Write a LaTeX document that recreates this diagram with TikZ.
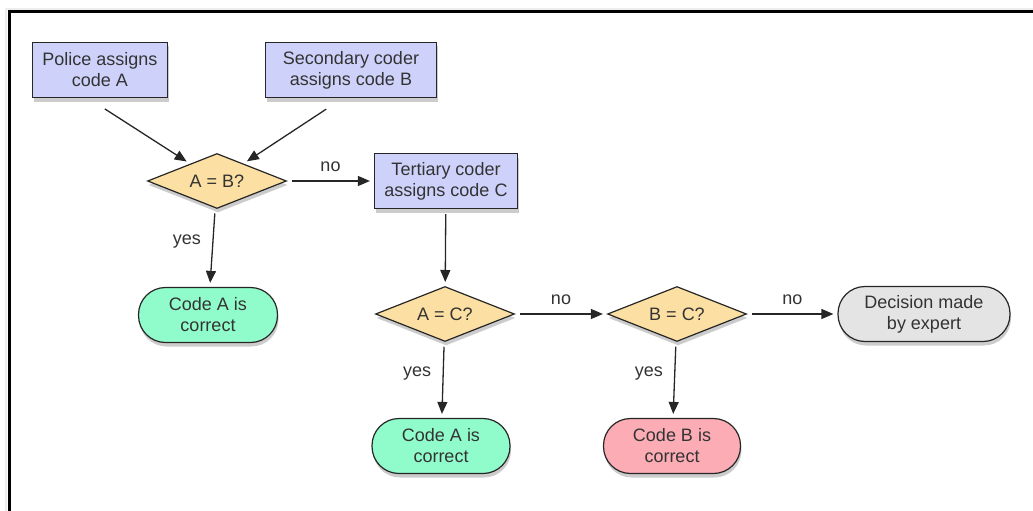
\documentclass[tikz,border=0pt]{standalone}
\usepackage{fontspec}
\setmainfont{Liberation Sans}
\usetikzlibrary{shapes.geometric,arrows.meta,shadows}

\definecolor{taskblue}{RGB}{206,210,250}
\definecolor{testyellow}{RGB}{252,223,162}
\definecolor{yesgreen}{RGB}{145,252,203}
\definecolor{nored}{RGB}{252,172,180}
\definecolor{expertgray}{RGB}{228,228,228}

\begin{document}
\begin{tikzpicture}[x=1pt,y=-1pt,
            every node/.style={font=\fontsize{18}{21}\selectfont,text=black!80},
            base node/.style={draw=black!85,line width=1.2pt,align=center,
                minimum height=55pt,inner sep=2pt,
                drop shadow={shadow xshift=1pt,shadow yshift=-4pt,opacity=0.2,fill=black}},
            task node/.style={base node,rectangle,fill=taskblue},
            test node/.style={base node,diamond,aspect=2.5,fill=testyellow,
                minimum width=139pt,inner sep=0pt},
            end node/.style={base node,rectangle,rounded corners=27pt},
            flow/.style={-{Triangle[length=12pt,width=10pt]},line width=1.3pt,
                draw=black!85,shorten <=5pt,shorten >=4pt},
            ]
            \useasboundingbox (0,0) rectangle (1033,511);

            % open frame, top and left side only
            \draw[line width=2pt,black!7] (1033,9) -- (6,9) -- (6,511);
            \draw[line width=3pt] (1033,12) -- (9,12) -- (9,511);

            \node[task node,minimum width=135pt] (police) at (100,70) {Police assigns\\code A};
            \node[task node,minimum width=171pt] (second) at (351,70) {Secondary coder\\assigns code B};
            \node[test node] (ab) at (217,181) {A = B?};
            \node[task node,minimum width=143pt] (third) at (446,181) {Tertiary coder\\assigns code C};
            \node[end node,fill=yesgreen,minimum width=139pt] (okA) at (208,315) {Code A is\\correct};
            \node[test node] (ac) at (445,314) {A = C?};
            \node[test node] (bc) at (677,314) {B = C?};
            \node[end node,fill=expertgray,minimum width=172pt] (expert) at (924,314) {Decision made\\by expert};
            \node[end node,fill=yesgreen,minimum width=138pt] (okAC) at (441,446) {Code A is\\correct};
            \node[end node,fill=nored,minimum width=137pt] (okB) at (672,446) {Code B is\\correct};

            \draw[flow,shorten <=20pt] ([xshift=-12pt]police.south) -- (ab);
            \draw[flow,shorten <=20pt] ([xshift=-8pt]second.south) -- (ab);
            \draw[flow] (ab) -- node[above=5pt] (noab) {no} (third);
            \draw[flow] (ab) -- node[pos=0.42,left=8pt] (yesab) {yes} (okA);
            \draw[flow] (third) -- (ac);
            \draw[flow] (ac) -- node[above=5pt] (noac) {no} (bc);
            \draw[flow] (ac) -- node[pos=0.42,left=8pt] (yesac) {yes} (okAC);
            \draw[flow] (bc) -- node[above=5pt] (nobc) {no} (expert);
            \draw[flow] (bc) -- node[pos=0.42,left=8pt] (yesbc) {yes} (okB);
        \end{tikzpicture}
\end{document}
